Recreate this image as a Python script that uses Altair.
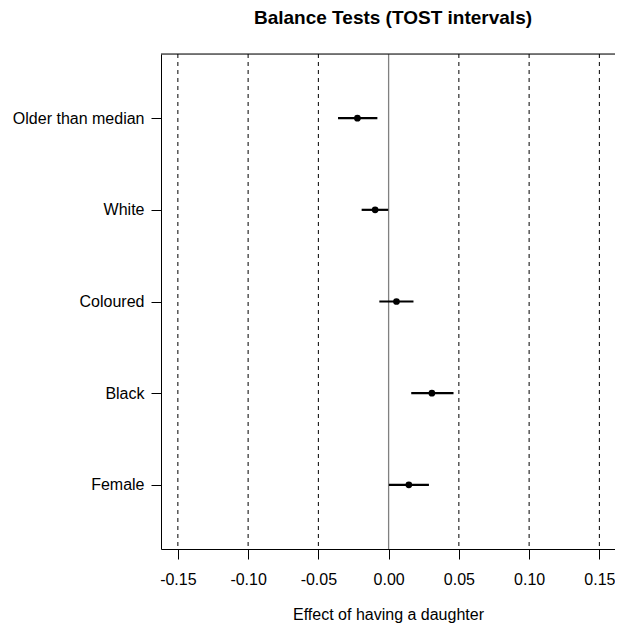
import json
import altair as alt
import pandas as pd

# ---- data ----
labels = ["Female", "Black", "Coloured", "White", "Older than median"]
positions = [1, 2, 3, 4, 5]
estimates = [0.0144, 0.0308, 0.0056, -0.0096, -0.0222]
lower = [0.0002, 0.0161, -0.0066, -0.0192, -0.0360]
upper = [0.0287, 0.0462, 0.0177, -0.0003, -0.0080]
dashed_refs = [-0.15, -0.10, -0.05, 0.05, 0.10, 0.15]
zero_ref = [0.0]
x_ticks = [-0.15, -0.10, -0.05, 0.00, 0.05, 0.10, 0.15]

df = pd.DataFrame({"label": labels, "pos": positions, "est": estimates,
                   "lo": lower, "hi": upper})
df_dash = pd.DataFrame({"v": dashed_refs})
df_zero = pd.DataFrame({"v": zero_ref})

W, H = 454, 495
FONT = "Liberation Sans"
PX_PER_UNIT = 1405.0
xdom = [-0.162, -0.162 + W / PX_PER_UNIT]
ydom = [0.3, 5.7]

xscale = alt.Scale(domain=xdom, nice=False, zero=False)
yscale = alt.Scale(domain=ydom, nice=False, zero=False)

label_expr = json.dumps([""] + labels) + "[datum.value]"

xaxis = alt.Axis(values=x_ticks, labelExpr="replace(format(datum.value, '.2f'), '\u2212', '-')",
                 title="Effect of having a daughter",
                 grid=False, tickSize=10, tickColor="black", domainColor="black",
                 labelFontSize=16, labelFont=FONT, labelColor="black",
                 labelBaseline="alphabetic", labelPadding=25,
                 titleFontSize=16, titleFont=FONT, titleFontWeight="normal",
                 titleColor="black", titleBaseline="alphabetic", titleY=70,
                 labelFlush=False, labelOverlap=False)
yaxis = alt.Axis(values=positions, labelExpr=label_expr, title=None, grid=False,
                 tickSize=10, tickColor="black", domainColor="black",
                 labelFontSize=16, labelFont=FONT, labelColor="black",
                 labelPadding=7, labelFlush=False, labelOverlap=False)

dashes = alt.Chart(df_dash).mark_rule(color="black", strokeWidth=1, strokeDash=[4, 4]).encode(
    x=alt.X("v:Q", scale=xscale, axis=xaxis)
)
zero = alt.Chart(df_zero).mark_rule(color="#808080", strokeWidth=1.3).encode(
    x=alt.X("v:Q", scale=xscale, axis=xaxis)
)
top_border = alt.Chart(df_zero).mark_rule(color="black", strokeWidth=1).encode(
    x=alt.value(0), x2=alt.value(W), y=alt.value(0)
)
intervals = alt.Chart(df).mark_rule(color="black", strokeWidth=2.2).encode(
    x=alt.X("lo:Q", scale=xscale, axis=xaxis),
    x2="hi:Q",
    y=alt.Y("pos:Q", scale=yscale, axis=yaxis),
)
points = alt.Chart(df).mark_circle(color="black", opacity=1, size=45).encode(
    x=alt.X("est:Q", scale=xscale, axis=xaxis),
    y=alt.Y("pos:Q", scale=yscale, axis=yaxis),
)

chart = alt.layer(dashes, zero, top_border, intervals, points).properties(
    width=W, height=H,
    title=alt.TitleParams("Balance Tests (TOST intervals)", font=FONT, fontSize=19,
                          fontWeight="bold", color="black", anchor="middle",
                          baseline="alphabetic", offset=10, dx=5),
    autosize=alt.AutoSizeParams(type="none"),
    padding={"left": 153, "top": 46, "right": 0, "bottom": 76},
).configure_view(strokeWidth=0).configure(background="white")

chart.save("out.html", embed_options={"renderer": "svg", "actions": False})
